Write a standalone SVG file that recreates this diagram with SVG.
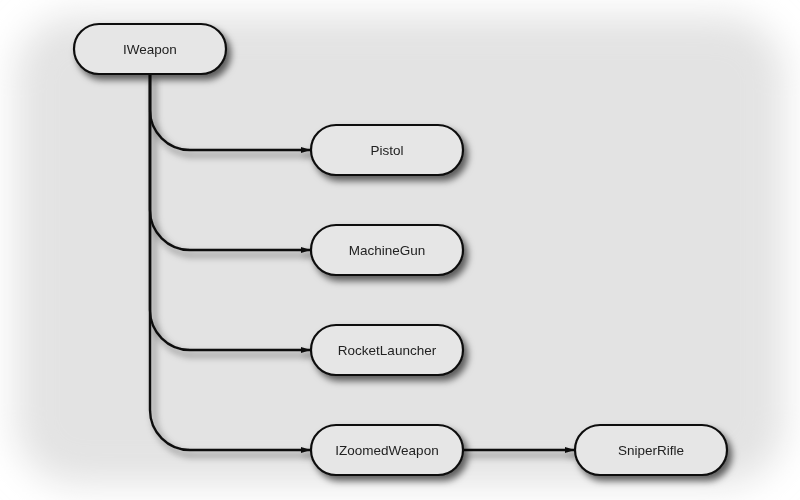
<svg xmlns="http://www.w3.org/2000/svg" width="800" height="500" viewBox="0 0 800 500">
  <defs>
    <filter id="bgblur" x="-10%" y="-10%" width="120%" height="120%">
      <feGaussianBlur stdDeviation="18"/>
    </filter>
    <filter id="shadow" x="-20%" y="-20%" width="150%" height="160%">
      <feDropShadow dx="4" dy="5" stdDeviation="3.5" flood-color="#000" flood-opacity="0.6"/>
    </filter>
    <marker id="arrow" viewBox="0 0 10 6" refX="10" refY="3" markerWidth="10" markerHeight="6" markerUnits="userSpaceOnUse" orient="auto">
      <path d="M0,0 L10,3 L0,6 Z" fill="#111"/>
    </marker>
    <style>
      .node rect { fill: #e6e6e6; stroke: #111; stroke-width: 2.2; }
      .node text { font-family: "Liberation Sans", Arial, sans-serif; font-size: 13.5px; fill: #222; text-anchor: middle; dominant-baseline: central; }
      .conn path { fill: none; stroke: #111; stroke-width: 2.4; marker-end: url(#arrow); }
    </style>
  </defs>
  <rect width="800" height="500" fill="#ffffff"/>
  <rect x="16" y="16" width="768" height="468" rx="60" fill="#e3e3e3" filter="url(#bgblur)"/>

  <g id="connectors" class="conn" filter="url(#shadow)">
    <path d="M150,74 V110 A40,40 0 0 0 190,150 H311"/>
    <path d="M150,74 V210 A40,40 0 0 0 190,250 H311"/>
    <path d="M150,74 V310 A40,40 0 0 0 190,350 H311"/>
    <path d="M150,74 V410 A40,40 0 0 0 190,450 H311"/>
    <path d="M463,450 H575"/>
  </g>

  <g id="IWeapon" class="node" filter="url(#shadow)">
    <rect x="74" y="24" width="152" height="50" rx="25"/>
    <text x="150" y="49">IWeapon</text>
  </g>
  <g id="Pistol" class="node" filter="url(#shadow)">
    <rect x="311" y="125" width="152" height="50" rx="25"/>
    <text x="387" y="150">Pistol</text>
  </g>
  <g id="MachineGun" class="node" filter="url(#shadow)">
    <rect x="311" y="225" width="152" height="50" rx="25"/>
    <text x="387" y="250">MachineGun</text>
  </g>
  <g id="RocketLauncher" class="node" filter="url(#shadow)">
    <rect x="311" y="325" width="152" height="50" rx="25"/>
    <text x="387" y="350">RocketLauncher</text>
  </g>
  <g id="IZoomedWeapon" class="node" filter="url(#shadow)">
    <rect x="311" y="425" width="152" height="50" rx="25"/>
    <text x="387" y="450">IZoomedWeapon</text>
  </g>
  <g id="SniperRifle" class="node" filter="url(#shadow)">
    <rect x="575" y="425" width="152" height="50" rx="25"/>
    <text x="651" y="450">SniperRifle</text>
  </g>
</svg>
